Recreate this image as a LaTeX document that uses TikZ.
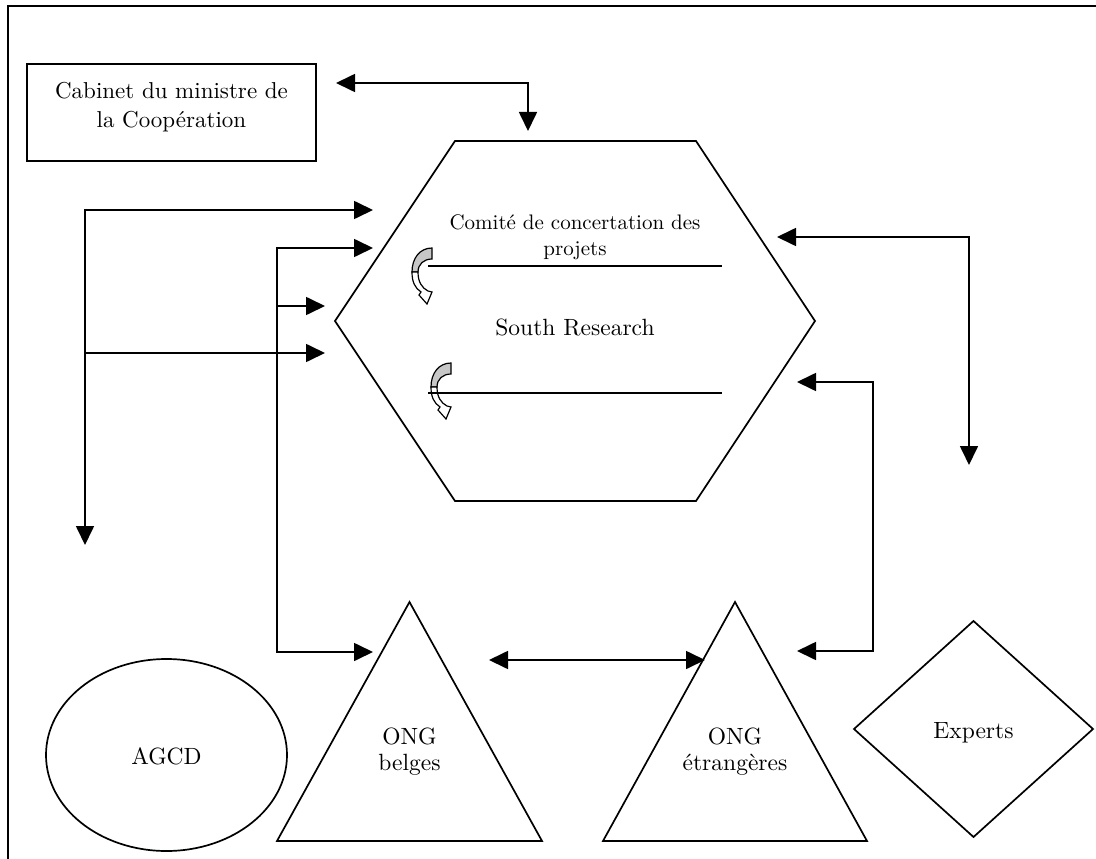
\documentclass[tikz,border=0pt]{standalone}
\usepackage{fontspec}
\setmainfont{lmroman10-regular.otf}
\usetikzlibrary{arrows.meta,shapes.geometric}
\begin{document}
\begin{tikzpicture}[x=1pt,y=-1pt,
  shp/.style={draw=black,line width=1.7pt,line join=miter},
  conn/.style={line width=1.7pt,-{Triangle[length=19pt,width=18pt]}},
  bconn/.style={line width=1.7pt,{Triangle[length=19pt,width=18pt]}-{Triangle[length=19pt,width=18pt]}},
  plain/.style={line width=1.8pt},
  lbl/.style={align=center,inner sep=0pt,text=black,font=\fontsize{23.5}{28}\selectfont},
  curly/.pic={
    \filldraw[fill=black!22,line width=1.2pt] (0,0) .. controls (-12,0) and (-20,10) .. (-20,24)
      -- (-14,24) .. controls (-14,16) and (-8,11) .. (0,11) -- cycle;
    \filldraw[fill=white,line width=1.2pt] (-20,24) .. controls (-20,34) and (-17,40) .. (-11,44)
      -- (-13,47) -- (-5,56) -- (0,44) -- (-4,43)
      .. controls (-10,40) and (-14,34) .. (-14,24) -- cycle;
  }
]
\useasboundingbox (0,0) rectangle (1096,859);
% frame
\draw[line width=1.6pt] (8,875) -- (8,6) -- (1110,6);

% shapes
\node[shp,rectangle,minimum width=289pt,minimum height=97pt,inner sep=0pt] (cab) at (171.5,112.5) {};
\draw[shp] (455,141) coordinate (hT1) -- (696,141) coordinate (hT2) -- (815,321) coordinate (hR)
  -- (696,501) coordinate (hB2) -- (455,501) coordinate (hB1) -- (335,321) coordinate (hL) -- cycle;
\node[shp,ellipse,minimum width=241pt,minimum height=192pt,inner sep=0pt] (agcd) at (166.5,755) {};
\draw[shp] (277,841) coordinate (b1) -- (409.5,602) coordinate (bA) -- (542,841) coordinate (b2) -- cycle;
\draw[shp] (603,841) coordinate (e1) -- (735,602) coordinate (eA) -- (867,841) coordinate (e2) -- cycle;
\draw[shp] (973.5,621) coordinate (dT) -- (1093,729) coordinate (dR) -- (973.5,837) coordinate (dB)
  -- (854,729) coordinate (dL) -- cycle;

% texts
\node[lbl,font=\fontsize{23}{29}\selectfont] (tcab) at (171.5,107) {Cabinet du ministre de\\la Coopération};
\node[lbl,font=\fontsize{21}{26}\selectfont] (tcom) at (575,237) {Comité de concertation des\\projets};
\node[lbl] (tsr) at (575,327) {South Research};
\node[lbl] (tagcd) at (166.5,756) {AGCD};
\node[lbl,font=\fontsize{23.5}{26}\selectfont] (tbel) at (409.5,752) {ONG\\belges};
\node[lbl,font=\fontsize{23.5}{26}\selectfont] (tetr) at (735,752) {ONG\\étrangères};
\node[lbl] (texp) at (973.5,733) {Experts};

% curly arrows inside the hexagon
\pic (cu1) at (432,248) {curly};
\pic (cu2) at (451,363) {curly};
\coordinate (s1a) at (428,266); \coordinate (s1b) at (722,266);
\coordinate (s2a) at (428,393); \coordinate (s2b) at (722,393);
\draw[plain] (s1a) -- (s1b);
\draw[plain] (s2a) -- (s2b);

% connector end points
\coordinate (cabR) at (336,83);   \coordinate (hexTop) at (528,131);
\coordinate (hexL1) at (373,210); \coordinate (agcdTop) at (85,545);
\coordinate (j1) at (85,353);     \coordinate (hexL4) at (325,353);
\coordinate (hexL2) at (373,248); \coordinate (belL) at (373,652);
\coordinate (j2) at (277,306);    \coordinate (hexL3) at (325,306);
\coordinate (hexR1) at (777,237); \coordinate (expTop) at (969,465);
\coordinate (hexR2) at (797,382); \coordinate (etrR) at (797,651);
\coordinate (r2) at (873,382);    \coordinate (r3) at (873,651);
\coordinate (belR) at (489,660);  \coordinate (etrL) at (705,660);
\coordinate (v2) at (277,248);    \coordinate (v3) at (277,652);

% connectors
\draw[bconn] (cabR) -| (hexTop);
\draw[bconn] (hexL1) -| (agcdTop);
\draw[conn] (j1) -- (hexL4);
\draw[bconn] (hexL2) -- (v2) -- (v3) -- (belL);
\draw[conn] (j2) -- (hexL3);
\draw[bconn] (hexR1) -| (expTop);
\draw[bconn] (hexR2) -- (r2) -- (r3) -- (etrR);
\draw[bconn] (belR) -- (etrL);
\end{tikzpicture}
\end{document}
